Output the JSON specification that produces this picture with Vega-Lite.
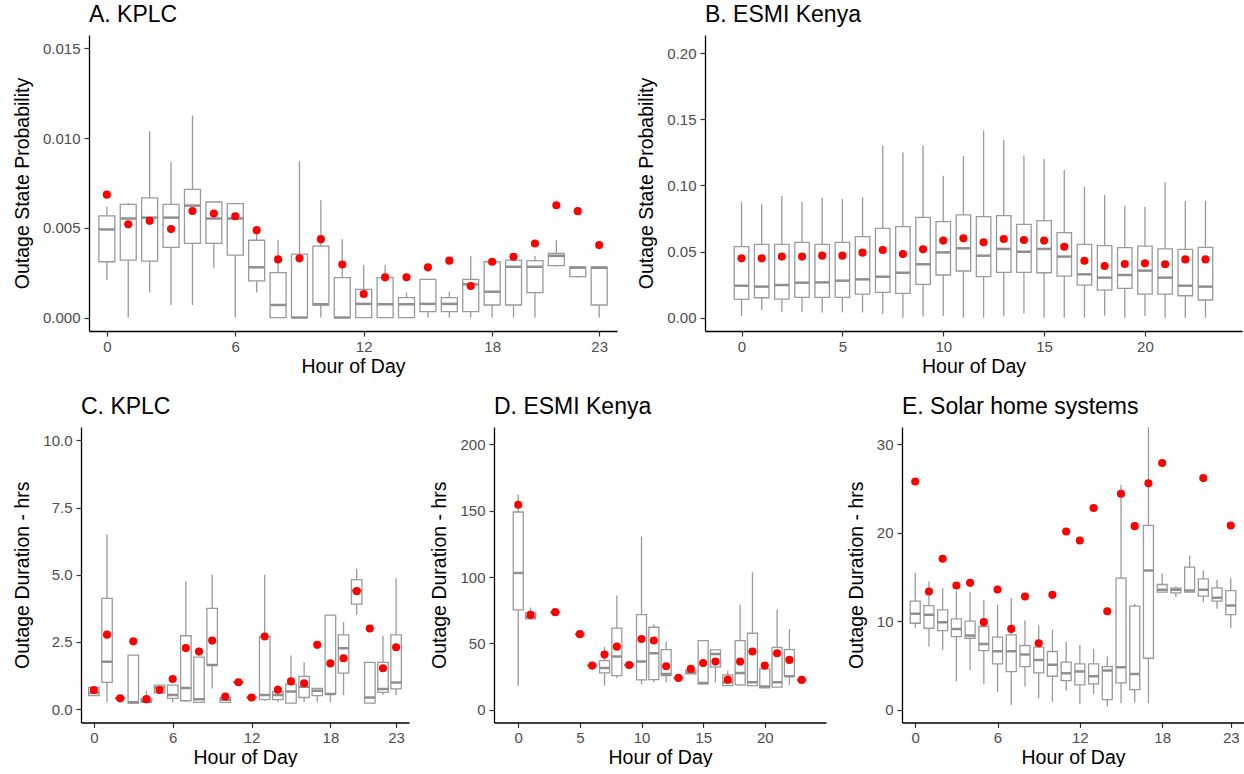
{
"$schema": "https://vega.github.io/schema/vega-lite/v6.json",
"padding": {"left": 11, "top": 4, "right": 0, "bottom": 0},
"datasets": {
"a": [
{"h":0,"lo":0.00209,"q1":0.00311,"med":0.00491,"q3":0.00567,"hi":0.00617,"mean":0.00685},
{"h":1,"lo":0,"q1":0.0032,"med":0.00552,"q3":0.00631,"hi":0.0064,"mean":0.0052},
{"h":2,"lo":0.00139,"q1":0.00315,"med":0.00557,"q3":0.00667,"hi":0.01039,"mean":0.00539},
{"h":3,"lo":0.0007,"q1":0.00391,"med":0.00557,"q3":0.00631,"hi":0.00867,"mean":0.00493},
{"h":4,"lo":0.0007,"q1":0.00413,"med":0.00624,"q3":0.00715,"hi":0.01126,"mean":0.00594},
{"h":5,"lo":0.00278,"q1":0.00413,"med":0.00552,"q3":0.00644,"hi":0.00644,"mean":0.0058},
{"h":6,"lo":0,"q1":0.00348,"med":0.00552,"q3":0.00635,"hi":0.00635,"mean":0.00565},
{"h":7,"lo":0.00139,"q1":0.00204,"med":0.0028,"q3":0.00431,"hi":0.00469,"mean":0.00487},
{"h":8,"lo":0,"q1":0,"med":0.0007,"q3":0.0025,"hi":0.00431,"mean":0.00324},
{"h":9,"lo":0,"q1":0,"med":0,"q3":0.00354,"hi":0.00872,"mean":0.0033},
{"h":10,"lo":0,"q1":0.0007,"med":0.00074,"q3":0.00398,"hi":0.00654,"mean":0.00437},
{"h":11,"lo":0,"q1":0,"med":0,"q3":0.00222,"hi":0.00437,"mean":0.00296},
{"h":12,"lo":0,"q1":0,"med":0.00076,"q3":0.00157,"hi":0.00293,"mean":0.00131},
{"h":13,"lo":0,"q1":0,"med":0.00074,"q3":0.00222,"hi":0.00293,"mean":0.00224},
{"h":14,"lo":0,"q1":0,"med":0.00074,"q3":0.00111,"hi":0.00139,"mean":0.00224},
{"h":15,"lo":0,"q1":0.00033,"med":0.00076,"q3":0.00213,"hi":0.00213,"mean":0.0028},
{"h":16,"lo":0,"q1":0.00033,"med":0.00076,"q3":0.00111,"hi":0.00144,"mean":0.00317},
{"h":17,"lo":0,"q1":0.00033,"med":0.00185,"q3":0.00213,"hi":0.00344,"mean":0.00176},
{"h":18,"lo":0,"q1":0.0007,"med":0.00144,"q3":0.00311,"hi":0.00311,"mean":0.00311},
{"h":19,"lo":0,"q1":0.0007,"med":0.00283,"q3":0.0032,"hi":0.0032,"mean":0.00339},
{"h":20,"lo":0,"q1":0.00139,"med":0.00283,"q3":0.00317,"hi":0.00343,"mean":0.00413},
{"h":21,"lo":0.00283,"q1":0.00289,"med":0.00344,"q3":0.00357,"hi":0.00431,"mean":0.00626},
{"h":22,"lo":0.00222,"q1":0.00228,"med":0.00278,"q3":0.00283,"hi":0.00283,"mean":0.00593},
{"h":23,"lo":0,"q1":0.0007,"med":0.00278,"q3":0.00283,"hi":0.00283,"mean":0.00404}
],
"b": [
{"h":0,"lo":0.0013,"q1":0.0139,"med":0.0242,"q3":0.0537,"hi":0.0873,"mean":0.0449},
{"h":1,"lo":0.0058,"q1":0.0151,"med":0.0235,"q3":0.0555,"hi":0.0858,"mean":0.0449},
{"h":2,"lo":0.0045,"q1":0.0141,"med":0.0247,"q3":0.0555,"hi":0.0921,"mean":0.0462},
{"h":3,"lo":0.0045,"q1":0.0154,"med":0.0265,"q3":0.057,"hi":0.0878,"mean":0.0462},
{"h":4,"lo":0.004,"q1":0.0154,"med":0.0267,"q3":0.0555,"hi":0.0908,"mean":0.0469},
{"h":5,"lo":0.004,"q1":0.0154,"med":0.028,"q3":0.057,"hi":0.0898,"mean":0.0469},
{"h":6,"lo":0.004,"q1":0.0179,"med":0.029,"q3":0.0613,"hi":0.091,"mean":0.0492},
{"h":7,"lo":0.0028,"q1":0.0192,"med":0.031,"q3":0.0676,"hi":0.13,"mean":0.0512},
{"h":8,"lo":0,"q1":0.0184,"med":0.034,"q3":0.0689,"hi":0.125,"mean":0.0482},
{"h":9,"lo":0.001,"q1":0.0252,"med":0.0404,"q3":0.0759,"hi":0.13,"mean":0.0517},
{"h":10,"lo":0.0013,"q1":0.0323,"med":0.0494,"q3":0.0726,"hi":0.1074,"mean":0.0583},
{"h":11,"lo":0,"q1":0.0353,"med":0.0525,"q3":0.0777,"hi":0.1223,"mean":0.06},
{"h":12,"lo":0,"q1":0.031,"med":0.0469,"q3":0.0764,"hi":0.1415,"mean":0.057},
{"h":13,"lo":0.0015,"q1":0.0343,"med":0.052,"q3":0.0772,"hi":0.1344,"mean":0.0595},
{"h":14,"lo":0.0033,"q1":0.0343,"med":0.0499,"q3":0.0706,"hi":0.1226,"mean":0.0588},
{"h":15,"lo":0,"q1":0.034,"med":0.052,"q3":0.0734,"hi":0.12,"mean":0.0583},
{"h":16,"lo":0,"q1":0.0315,"med":0.0462,"q3":0.0643,"hi":0.1117,"mean":0.0537},
{"h":17,"lo":0,"q1":0.0247,"med":0.0328,"q3":0.0555,"hi":0.0991,"mean":0.0431},
{"h":18,"lo":0.0015,"q1":0.0209,"med":0.0303,"q3":0.0545,"hi":0.0928,"mean":0.0391},
{"h":19,"lo":0,"q1":0.0222,"med":0.0323,"q3":0.053,"hi":0.0847,"mean":0.0406},
{"h":20,"lo":0.0013,"q1":0.0179,"med":0.0356,"q3":0.0542,"hi":0.084,"mean":0.0411},
{"h":21,"lo":0,"q1":0.0179,"med":0.0303,"q3":0.052,"hi":0.1024,"mean":0.0404},
{"h":22,"lo":0,"q1":0.0166,"med":0.0242,"q3":0.0517,"hi":0.0885,"mean":0.0441},
{"h":23,"lo":0,"q1":0.0134,"med":0.0235,"q3":0.0532,"hi":0.0885,"mean":0.0441}
],
"c": [
{"h":0,"lo":0.5,"q1":0.5,"med":0.6,"q3":0.81,"hi":0.81,"mean":0.71},
{"h":1,"lo":0.25,"q1":0.99,"med":1.76,"q3":4.12,"hi":6.5,"mean":2.77},
{"h":2,"lo":0.4,"q1":0.4,"med":0.4,"q3":0.4,"hi":0.4,"mean":0.4},
{"h":3,"lo":0.22,"q1":0.22,"med":0.25,"q3":2.01,"hi":2.01,"mean":2.52},
{"h":4,"lo":0.22,"q1":0.25,"med":0.3,"q3":0.4,"hi":0.68,"mean":0.37},
{"h":5,"lo":0.6,"q1":0.6,"med":0.8,"q3":0.89,"hi":0.89,"mean":0.71},
{"h":6,"lo":0.25,"q1":0.4,"med":0.52,"q3":0.89,"hi":0.89,"mean":1.12},
{"h":7,"lo":0.25,"q1":0.31,"med":0.78,"q3":2.73,"hi":4.75,"mean":2.27},
{"h":8,"lo":0.25,"q1":0.25,"med":0.37,"q3":1.93,"hi":1.93,"mean":2.14},
{"h":9,"lo":0.77,"q1":1.64,"med":1.64,"q3":3.75,"hi":5.0,"mean":2.55},
{"h":10,"lo":0.25,"q1":0.25,"med":0.35,"q3":0.43,"hi":0.45,"mean":0.47},
{"h":11,"lo":1.0,"q1":1.0,"med":1.0,"q3":1.0,"hi":1.0,"mean":1.0},
{"h":12,"lo":0.43,"q1":0.43,"med":0.43,"q3":0.43,"hi":0.43,"mean":0.43},
{"h":13,"lo":0.31,"q1":0.35,"med":0.52,"q3":2.7,"hi":5.0,"mean":2.7},
{"h":14,"lo":0.25,"q1":0.35,"med":0.52,"q3":0.65,"hi":0.89,"mean":0.72},
{"h":15,"lo":0.22,"q1":0.22,"med":0.65,"q3":0.93,"hi":1.99,"mean":1.03},
{"h":16,"lo":0.25,"q1":0.43,"med":0.83,"q3":1.22,"hi":1.74,"mean":0.96},
{"h":17,"lo":0.25,"q1":0.5,"med":0.68,"q3":0.77,"hi":0.77,"mean":2.39},
{"h":18,"lo":0.25,"q1":0.56,"med":0.56,"q3":3.5,"hi":3.5,"mean":1.7},
{"h":19,"lo":0.52,"q1":1.34,"med":2.26,"q3":2.76,"hi":3.23,"mean":1.89},
{"h":20,"lo":3.5,"q1":3.91,"med":4.41,"q3":4.82,"hi":5.22,"mean":4.39},
{"h":21,"lo":0.22,"q1":0.22,"med":0.43,"q3":1.74,"hi":1.74,"mean":3.0},
{"h":22,"lo":0.52,"q1":0.62,"med":0.75,"q3":1.74,"hi":2.73,"mean":1.52},
{"h":23,"lo":0.52,"q1":0.75,"med":0.99,"q3":2.76,"hi":4.87,"mean":2.3}
],
"d": [
{"h":0,"lo":18,"q1":75.2,"med":103,"q3":149,"hi":162,"mean":154.5},
{"h":1,"lo":68.4,"q1":68.4,"med":70,"q3":73,"hi":77,"mean":71.4},
{"h":3,"lo":73.5,"q1":73.5,"med":73.5,"q3":73.5,"hi":73.5,"mean":73.5},
{"h":5,"lo":56.9,"q1":56.9,"med":56.9,"q3":56.9,"hi":56.9,"mean":56.9},
{"h":6,"lo":33.2,"q1":33.2,"med":33.2,"q3":33.2,"hi":33.2,"mean":33.2},
{"h":7,"lo":18.1,"q1":27.7,"med":31.4,"q3":37,"hi":47.5,"mean":41.5},
{"h":8,"lo":23.6,"q1":25.7,"med":40,"q3":61.4,"hi":86,"mean":47.5},
{"h":9,"lo":33.7,"q1":33.7,"med":33.7,"q3":33.7,"hi":33.7,"mean":33.7},
{"h":10,"lo":18.9,"q1":22.4,"med":36.2,"q3":71.7,"hi":130.6,"mean":53.3},
{"h":11,"lo":20.6,"q1":22.6,"med":42.5,"q3":62.1,"hi":64.2,"mean":52.1},
{"h":12,"lo":20.6,"q1":25.7,"med":26.9,"q3":45.3,"hi":51.3,"mean":32.7},
{"h":13,"lo":23.9,"q1":23.9,"med":23.9,"q3":23.9,"hi":23.9,"mean":23.9},
{"h":14,"lo":27,"q1":27,"med":28,"q3":30,"hi":30,"mean":30.7},
{"h":15,"lo":19.4,"q1":19.4,"med":20,"q3":52.1,"hi":52.1,"mean":35.2},
{"h":16,"lo":20.6,"q1":32,"med":42,"q3":45,"hi":45,"mean":36.2},
{"h":17,"lo":18.1,"q1":18.1,"med":20.6,"q3":26.2,"hi":29.4,"mean":22.6},
{"h":18,"lo":18.1,"q1":18.6,"med":27.7,"q3":52.1,"hi":79,"mean":36.2},
{"h":19,"lo":17.6,"q1":18.1,"med":20.6,"q3":57.6,"hi":103.6,"mean":43.8},
{"h":20,"lo":16.4,"q1":16.4,"med":17.4,"q3":30.7,"hi":30.7,"mean":33.2},
{"h":21,"lo":16.9,"q1":16.9,"med":20.6,"q3":47,"hi":75.5,"mean":42.5},
{"h":22,"lo":18.6,"q1":25.2,"med":25.2,"q3":45.3,"hi":60.9,"mean":37.5},
{"h":23,"lo":22.4,"q1":22.4,"med":22.4,"q3":22.4,"hi":22.4,"mean":22.4}
],
"e": [
{"h":0,"lo":9.2,"q1":9.77,"med":10.83,"q3":12.26,"hi":15.47,"mean":25.8},
{"h":1,"lo":7.13,"q1":9.2,"med":10.72,"q3":11.77,"hi":14.53,"mean":13.36},
{"h":2,"lo":6.75,"q1":8.94,"med":9.89,"q3":11.28,"hi":13.74,"mean":17.06},
{"h":3,"lo":3.2,"q1":8.26,"med":9.13,"q3":10.26,"hi":13.47,"mean":14.04},
{"h":4,"lo":4.49,"q1":8.07,"med":8.38,"q3":10.0,"hi":13.28,"mean":14.34},
{"h":5,"lo":2.9,"q1":6.68,"med":7.43,"q3":9.4,"hi":12.4,"mean":9.89},
{"h":6,"lo":1.96,"q1":5.17,"med":6.6,"q3":8.19,"hi":11.85,"mean":13.58},
{"h":7,"lo":0.53,"q1":4.3,"med":6.6,"q3":8.45,"hi":12.6,"mean":9.13},
{"h":8,"lo":2.6,"q1":4.87,"med":6.23,"q3":7.25,"hi":10.08,"mean":12.79},
{"h":9,"lo":1.28,"q1":4.15,"med":5.62,"q3":7.06,"hi":9.5,"mean":7.5},
{"h":10,"lo":0.9,"q1":3.77,"med":5.06,"q3":6.57,"hi":9.06,"mean":12.98},
{"h":11,"lo":2.15,"q1":3.28,"med":4.11,"q3":5.36,"hi":7.7,"mean":20.15},
{"h":12,"lo":0.64,"q1":2.79,"med":4.3,"q3":5.17,"hi":7.32,"mean":19.13},
{"h":13,"lo":1.77,"q1":2.9,"med":3.77,"q3":5.17,"hi":6.87,"mean":22.8},
{"h":14,"lo":0.34,"q1":1.13,"med":4.42,"q3":4.87,"hi":6.0,"mean":11.13},
{"h":15,"lo":0.72,"q1":3.02,"med":4.79,"q3":14.87,"hi":25.43,"mean":24.42},
{"h":16,"lo":0.83,"q1":2.26,"med":4.04,"q3":11.7,"hi":11.96,"mean":20.75},
{"h":17,"lo":0.72,"q1":5.81,"med":15.74,"q3":20.83,"hi":33,"mean":25.6},
{"h":18,"lo":13.2,"q1":13.28,"med":13.55,"q3":14.15,"hi":15.36,"mean":27.9},
{"h":19,"lo":12.7,"q1":13.2,"med":13.55,"q3":13.74,"hi":13.96,"mean":null},
{"h":20,"lo":13.2,"q1":13.28,"med":13.47,"q3":16.11,"hi":17.43,"mean":null},
{"h":21,"lo":12.15,"q1":12.83,"med":13.55,"q3":14.79,"hi":15.74,"mean":26.19},
{"h":22,"lo":11.4,"q1":12.26,"med":12.64,"q3":13.77,"hi":14.68,"mean":null},
{"h":23,"lo":9.2,"q1":10.75,"med":11.77,"q3":13.47,"hi":14.87,"mean":20.83}
]
},
"concat": [
{"hconcat": [
{"width": 1, "height": 1, "data": {"values": [{}]}, "mark": {"type": "point", "size": 0, "opacity": 0}, "encoding": {}},
{"hconcat": [
{"width": 528, "height": 296, "title": {"text": "A. KPLC"}, "data": {"name": "a"},
 "encoding": {"x": {"field": "h", "type": "quantitative", "title": "Hour of Day", "scale": {"domain": [-0.6, 23.6], "nice": false, "zero": false}, "axis": {"values": [0, 6, 12, 18, 23]}}},
 "layer": [
  {"mark": {"type": "rule", "color": "#9a9a9a", "strokeWidth": 1.3, "clip": true}, "encoding": {"y": {"field": "lo", "type": "quantitative", "title": "Outage State Probability", "scale": {"domain": [-0.00075, 0.01575], "nice": false, "zero": false}, "axis": {"values": [0, 0.005, 0.01, 0.015], "format": ".3f"}}, "y2": {"field": "hi"}}},
  {"mark": {"type": "bar", "orient": "vertical", "size": 16, "fill": "white", "stroke": "#9a9a9a", "strokeWidth": 1.3, "clip": true}, "encoding": {"y": {"field": "q1", "type": "quantitative", "title": "Outage State Probability"}, "y2": {"field": "q3"}}},
  {"mark": {"type": "tick", "orient": "horizontal", "size": 16, "thickness": 2.5, "color": "#8f8f8f", "opacity": 1, "clip": true}, "encoding": {"y": {"field": "med", "type": "quantitative", "title": "Outage State Probability"}}},
  {"mark": {"type": "point", "filled": true, "color": "#ff0000", "size": 66, "opacity": 1, "clip": true}, "encoding": {"y": {"field": "mean", "type": "quantitative", "title": "Outage State Probability"}}}
 ]},
{"width": 537, "height": 296, "title": {"text": "B. ESMI Kenya"}, "data": {"name": "b"},
 "encoding": {"x": {"field": "h", "type": "quantitative", "title": "Hour of Day", "scale": {"domain": [-1.5625, 24.5625], "nice": false, "zero": false}, "axis": {"values": [0, 5, 10, 15, 20]}}},
 "layer": [
  {"mark": {"type": "rule", "color": "#9a9a9a", "strokeWidth": 1.3, "clip": true}, "encoding": {"y": {"field": "lo", "type": "quantitative", "title": "Outage State Probability", "scale": {"domain": [-0.01006, 0.2138], "nice": false, "zero": false}, "axis": {"values": [0, 0.05, 0.1, 0.15, 0.2], "format": ".2f"}}, "y2": {"field": "hi"}}},
  {"mark": {"type": "bar", "orient": "vertical", "size": 14.5, "fill": "white", "stroke": "#9a9a9a", "strokeWidth": 1.3, "clip": true}, "encoding": {"y": {"field": "q1", "type": "quantitative", "title": "Outage State Probability"}, "y2": {"field": "q3"}}},
  {"mark": {"type": "tick", "orient": "horizontal", "size": 14.5, "thickness": 2.5, "color": "#8f8f8f", "opacity": 1, "clip": true}, "encoding": {"y": {"field": "med", "type": "quantitative", "title": "Outage State Probability"}}},
  {"mark": {"type": "point", "filled": true, "color": "#ff0000", "size": 66, "opacity": 1, "clip": true}, "encoding": {"y": {"field": "mean", "type": "quantitative", "title": "Outage State Probability"}}}
 ]}
], "spacing": 19}
], "spacing": 0},
{"hconcat": [
{"width": 1, "height": 1, "data": {"values": [{}]}, "mark": {"type": "point", "size": 0, "opacity": 0}, "encoding": {}},
{"hconcat": [
{"width": 328, "height": 295.5, "title": {"text": "C. KPLC"}, "data": {"name": "c"},
 "encoding": {"x": {"field": "h", "type": "quantitative", "title": "Hour of Day", "scale": {"domain": [-0.6, 23.6], "nice": false, "zero": false}, "axis": {"values": [0, 6, 12, 18, 23]}}},
 "layer": [
  {"mark": {"type": "rule", "color": "#9a9a9a", "strokeWidth": 1.3, "clip": true}, "encoding": {"y": {"field": "lo", "type": "quantitative", "title": "Outage Duration - hrs", "scale": {"domain": [-0.5, 10.5], "nice": false, "zero": false}, "axis": {"values": [0, 2.5, 5, 7.5, 10], "format": ".1f"}}, "y2": {"field": "hi"}}},
  {"mark": {"type": "bar", "orient": "vertical", "size": 10.5, "fill": "white", "stroke": "#9a9a9a", "strokeWidth": 1.3, "clip": true}, "encoding": {"y": {"field": "q1", "type": "quantitative", "title": "Outage Duration - hrs"}, "y2": {"field": "q3"}}},
  {"mark": {"type": "tick", "orient": "horizontal", "size": 10.5, "thickness": 2.5, "color": "#8f8f8f", "opacity": 1, "clip": true}, "encoding": {"y": {"field": "med", "type": "quantitative", "title": "Outage Duration - hrs"}}},
  {"mark": {"type": "point", "filled": true, "color": "#ff0000", "size": 66, "opacity": 1, "clip": true}, "encoding": {"y": {"field": "mean", "type": "quantitative", "title": "Outage Duration - hrs"}}}
 ]},
{"width": 332, "height": 295.5, "title": {"text": "D. ESMI Kenya"}, "data": {"name": "d"},
 "encoding": {"x": {"field": "h", "type": "quantitative", "title": "Hour of Day", "scale": {"domain": [-1.5625, 24.5625], "nice": false, "zero": false}, "axis": {"values": [0, 5, 10, 15, 20]}}},
 "layer": [
  {"mark": {"type": "rule", "color": "#9a9a9a", "strokeWidth": 1.3, "clip": true}, "encoding": {"y": {"field": "lo", "type": "quantitative", "title": "Outage Duration - hrs", "scale": {"domain": [-9.7, 213.1], "nice": false, "zero": false}, "axis": {"values": [0, 50, 100, 150, 200], "format": "d"}}, "y2": {"field": "hi"}}},
  {"mark": {"type": "bar", "orient": "vertical", "size": 10, "fill": "white", "stroke": "#9a9a9a", "strokeWidth": 1.3, "clip": true}, "encoding": {"y": {"field": "q1", "type": "quantitative", "title": "Outage Duration - hrs"}, "y2": {"field": "q3"}}},
  {"mark": {"type": "tick", "orient": "horizontal", "size": 10, "thickness": 2.5, "color": "#8f8f8f", "opacity": 1, "clip": true}, "encoding": {"y": {"field": "med", "type": "quantitative", "title": "Outage Duration - hrs"}}},
  {"mark": {"type": "point", "filled": true, "color": "#ff0000", "size": 66, "opacity": 1, "clip": true}, "encoding": {"y": {"field": "mean", "type": "quantitative", "title": "Outage Duration - hrs"}}}
 ]},
{"width": 342, "height": 295.5, "title": {"text": "E. Solar home systems"}, "data": {"name": "e"},
 "encoding": {"x": {"field": "h", "type": "quantitative", "title": "Hour of Day", "scale": {"domain": [-0.6, 23.6], "nice": false, "zero": false}, "axis": {"values": [0, 6, 12, 18, 23]}}},
 "layer": [
  {"mark": {"type": "rule", "color": "#9a9a9a", "strokeWidth": 1.3, "clip": true}, "encoding": {"y": {"field": "lo", "type": "quantitative", "title": "Outage Duration - hrs", "scale": {"domain": [-1.46, 31.97], "nice": false, "zero": false}, "axis": {"values": [0, 10, 20, 30], "format": "d"}}, "y2": {"field": "hi"}}},
  {"mark": {"type": "bar", "orient": "vertical", "size": 10, "fill": "white", "stroke": "#9a9a9a", "strokeWidth": 1.3, "clip": true}, "encoding": {"y": {"field": "q1", "type": "quantitative", "title": "Outage Duration - hrs"}, "y2": {"field": "q3"}}},
  {"mark": {"type": "tick", "orient": "horizontal", "size": 10, "thickness": 2.5, "color": "#8f8f8f", "opacity": 1, "clip": true}, "encoding": {"y": {"field": "med", "type": "quantitative", "title": "Outage Duration - hrs"}}},
  {"mark": {"type": "point", "filled": true, "color": "#ff0000", "size": 66, "opacity": 1, "clip": true}, "encoding": {"y": {"field": "mean", "type": "quantitative", "title": "Outage Duration - hrs"}}}
 ]}
], "spacing": 20}
], "spacing": 0}
],
"columns": 1,
"align": "none",
"spacing": 20,
"config": {
 "font": "Liberation Sans",
 "view": {"stroke": null},
 "axis": {"grid": false, "domainColor": "black", "domainWidth": 1.3, "tickColor": "#333333", "tickWidth": 1.2, "tickSize": 5, "labelColor": "#4d4d4d", "labelFontSize": 15, "labelFont": "Liberation Sans", "titleFont": "Liberation Sans", "titleFontSize": 19.5, "titleFontWeight": "normal", "titleColor": "black", "labelOverlap": false},
 "axisY": {"labelPadding": 4, "titlePadding": 10},
 "axisX": {"labelPadding": 3, "titlePadding": 3, "labelFlush": false},
 "title": {"anchor": "start", "frame": "group", "fontSize": 23, "fontWeight": "normal", "font": "Liberation Sans", "color": "black", "offset": 8}
}
}
